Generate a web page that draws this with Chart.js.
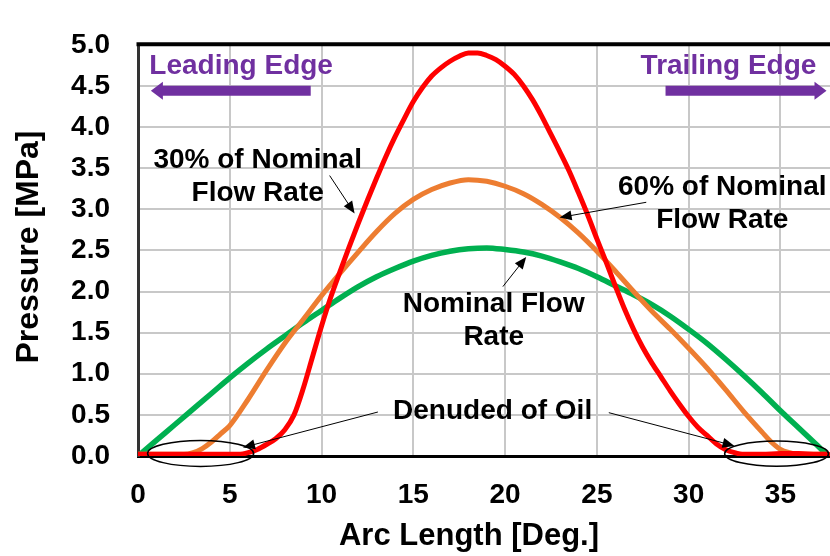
<!DOCTYPE html>
<html>
<head>
<meta charset="utf-8">
<script src="https://cdn.jsdelivr.net/npm/chart.js@4.4.1/dist/chart.umd.min.js"></script>
<style>
  html, body { margin: 0; padding: 0; background: #fff; }
  #wrap { width: 830px; height: 556px; position: relative; }
</style>
</head>
<body>
<div id="wrap"><canvas id="chart"></canvas></div>
<script>
// Pressure profiles along the pad arc, three supply flow rates
const arc30 = [0, 1, 2, 3, 4, 5, 5.5, 6, 6.5, 7, 7.5, 8, 8.5, 9, 9.5, 10, 10.5, 11, 11.5, 12, 12.5, 13, 13.5, 14, 14.5, 15, 15.5, 16, 16.5, 17, 17.5, 18, 18.5, 19, 19.5, 20, 20.5, 21, 21.5, 22, 22.5, 23, 23.5, 24, 24.5, 25, 25.5, 26, 26.5, 27, 27.5, 28, 28.5, 29, 29.5, 30, 30.5, 31, 31.5, 32, 32.5, 33, 34, 35, 36, 37, 37.6];
const pressure30 = [0.02, 0.02, 0.02, 0.02, 0.02, 0.02, 0.02, 0.04, 0.08, 0.14, 0.21, 0.32, 0.50, 0.82, 1.20, 1.58, 1.93, 2.24, 2.54, 2.83, 3.11, 3.38, 3.64, 3.88, 4.10, 4.31, 4.48, 4.62, 4.72, 4.80, 4.86, 4.90, 4.90, 4.87, 4.82, 4.74, 4.64, 4.50, 4.33, 4.13, 3.91, 3.69, 3.46, 3.20, 2.93, 2.64, 2.36, 2.07, 1.79, 1.54, 1.32, 1.13, 0.96, 0.79, 0.63, 0.48, 0.35, 0.25, 0.15, 0.08, 0.04, 0.02, 0.02, 0.03, 0.03, 0.02, 0.02];

const arc60 = [0, 1, 2, 2.5, 3, 3.5, 4, 4.5, 5, 6, 7, 8, 9, 10, 11, 12, 13, 14, 15, 16, 17, 18, 19, 20, 21, 22, 23, 24, 25, 26, 27, 28, 29, 30, 31, 32, 33, 34, 34.5, 35, 35.5, 36, 37, 37.6];
const pressure60 = [0.02, 0.02, 0.02, 0.02, 0.04, 0.09, 0.17, 0.27, 0.37, 0.69, 1.04, 1.37, 1.66, 1.95, 2.22, 2.48, 2.73, 2.95, 3.12, 3.24, 3.32, 3.36, 3.34, 3.28, 3.19, 3.06, 2.90, 2.71, 2.49, 2.25, 2.00, 1.76, 1.54, 1.31, 1.07, 0.81, 0.54, 0.29, 0.17, 0.08, 0.04, 0.02, 0.02, 0.02];

const arcNominal = [0, 1, 2, 3, 4, 5, 6, 7, 8, 9, 10, 11, 12, 13, 14, 15, 16, 17, 18, 19, 20, 21, 22, 23, 24, 25, 26, 27, 28, 29, 30, 31, 32, 33, 34, 35, 36, 37, 37.6];
const pressureNominal = [0, 0.19, 0.38, 0.57, 0.76, 0.95, 1.13, 1.30, 1.46, 1.62, 1.77, 1.92, 2.06, 2.18, 2.28, 2.37, 2.44, 2.49, 2.52, 2.53, 2.51, 2.48, 2.43, 2.36, 2.28, 2.18, 2.07, 1.96, 1.84, 1.70, 1.54, 1.37, 1.18, 0.98, 0.77, 0.55, 0.34, 0.13, 0];

const xTickStep = 5;
const yTickStep = 0.5;
const xMax = 37.7;
const yMax = 5.0;

const FONT = "'Liberation Sans', Arial, Helvetica, sans-serif";
const PURPLE = '#7030A0';

const toPoints = (xs, ys) => xs.map((x, i) => ({ x: x, y: ys[i] }));

// Callouts, placed in data units (arc degrees, MPa)
const calloutText = [
  { lines: ['Leading Edge'], x: 5.62, y: 4.74, color: PURPLE },
  { lines: ['Trailing Edge'], x: 32.17, y: 4.74, color: PURPLE },
  { lines: ['30% of Nominal', 'Flow Rate'], x: 6.52, y: 3.60, color: '#000' },
  { lines: ['60% of Nominal', 'Flow Rate'], x: 31.83, y: 3.27, color: '#000' },
  { lines: ['Nominal Flow', 'Rate'], x: 19.38, y: 1.84, color: '#000' },
  { lines: ['Denuded of Oil'], x: 19.32, y: 0.54, color: '#000' }
];
const thinArrows = [
  [10.44, 3.41, 11.80, 2.95],
  [27.69, 3.085, 22.97, 2.90],
  [19.88, 2.06, 21.15, 2.42],
  [13.07, 0.535, 5.72, 0.104],
  [25.65, 0.527, 32.50, 0.123]
];
const edgeArrows = [
  [9.41, 4.44, 0.70, 4.44],
  [28.74, 4.44, 37.51, 4.44]
];
const dryZones = [
  { x: 3.41, y: 0.031, rx: 2.89, ry: 0.158 },
  { x: 34.79, y: 0.028, rx: 2.83, ry: 0.153 }
];

function arrowHead(ctx, x1, y1, x2, y2, len, half) {
  const ang = Math.atan2(y2 - y1, x2 - x1);
  ctx.beginPath();
  ctx.moveTo(x2, y2);
  ctx.lineTo(x2 - len * Math.cos(ang) + half * Math.sin(ang), y2 - len * Math.sin(ang) - half * Math.cos(ang));
  ctx.lineTo(x2 - len * Math.cos(ang) - half * Math.sin(ang), y2 - len * Math.sin(ang) + half * Math.cos(ang));
  ctx.closePath();
  ctx.fill();
}

const callouts = {
  id: 'callouts',
  afterDatasetsDraw(chart) {
    const { ctx, chartArea: a, scales } = chart;
    const X = v => scales.x.getPixelForValue(v);
    const Y = v => scales.y.getPixelForValue(v);
    ctx.save();

    // heavy top frame
    ctx.strokeStyle = '#000';
    ctx.lineWidth = 4;
    ctx.beginPath();
    ctx.moveTo(a.left - 1.5, a.top - 0.5);
    ctx.lineTo(a.right, a.top - 0.5);
    ctx.stroke();

    // oil-free zones
    ctx.lineWidth = 1.5;
    dryZones.forEach(z => {
      const cx = X(z.x), cy = Y(z.y);
      const rx = X(z.x + z.rx) - cx, ry = cy - Y(z.y + z.ry);
      ctx.beginPath();
      ctx.ellipse(cx, cy, rx, ry, 0, 0, Math.PI * 2);
      ctx.stroke();
    });

    // pointer arrows
    ctx.fillStyle = '#000';
    ctx.lineWidth = 1;
    thinArrows.forEach(([x1, y1, x2, y2]) => {
      const p1x = X(x1), p1y = Y(y1), p2x = X(x2), p2y = Y(y2);
      const ang = Math.atan2(p2y - p1y, p2x - p1x);
      ctx.beginPath();
      ctx.moveTo(p1x, p1y);
      ctx.lineTo(p2x - 8 * Math.cos(ang), p2y - 8 * Math.sin(ang));
      ctx.stroke();
      arrowHead(ctx, p1x, p1y, p2x, p2y, 12, 5);
    });

    // leading / trailing direction arrows
    ctx.strokeStyle = PURPLE;
    ctx.fillStyle = PURPLE;
    ctx.lineWidth = 10;
    edgeArrows.forEach(([x1, y1, x2, y2]) => {
      const p1x = X(x1), py = Y(y1), p2x = X(x2);
      const dir = Math.sign(p2x - p1x);
      ctx.beginPath();
      ctx.moveTo(p1x, py);
      ctx.lineTo(p2x - dir * 10, py);
      ctx.stroke();
      arrowHead(ctx, p1x, py, p2x, py, 12, 9);
    });

    // callout text
    ctx.font = 'bold 28px ' + FONT;
    ctx.textAlign = 'center';
    ctx.textBaseline = 'middle';
    calloutText.forEach(t => {
      ctx.fillStyle = t.color;
      t.lines.forEach((s, i) => ctx.fillText(s, X(t.x), Y(t.y) + i * 33));
    });
    ctx.restore();
  },
  afterDraw(chart) {
    const { ctx } = chart;
    ctx.save();
    ctx.fillStyle = '#000';
    ctx.textAlign = 'center';
    ctx.textBaseline = 'middle';
    ctx.font = 'bold 31px ' + FONT;
    ctx.fillText('Arc Length [Deg.]', 469, 536);
    ctx.translate(29, 247);
    ctx.rotate(-Math.PI / 2);
    ctx.font = 'bold 32px ' + FONT;
    ctx.fillText('Pressure [MPa]', 0, 0);
    ctx.restore();
  }
};

const line = (label, xs, ys, color, width) => ({
  label: label,
  data: toPoints(xs, ys),
  borderColor: color,
  backgroundColor: color,
  borderWidth: width,
  pointRadius: 0,
  fill: false,
  cubicInterpolationMode: 'monotone',
  borderCapStyle: 'round',
  borderJoinStyle: 'round'
});

new Chart(document.getElementById('chart'), {
  type: 'line',
  data: {
    datasets: [
      line('30% of Nominal Flow Rate', arc30, pressure30, '#FF0000', 5),
      line('60% of Nominal Flow Rate', arc60, pressure60, '#ED7D31', 5),
      line('Nominal Flow Rate', arcNominal, pressureNominal, '#00B050', 5.5)
    ]
  },
  options: {
    responsive: true,
    maintainAspectRatio: false,
    devicePixelRatio: 1,
    animation: false,
    layout: { padding: { top: 22, right: 0, bottom: 0, left: 0 } },
    plugins: {
      legend: { display: false },
      tooltip: { enabled: false }
    },
    scales: {
      x: {
        type: 'linear',
        min: 0,
        max: xMax,
        afterFit: s => { s.height = 100; },
        afterBuildTicks: s => {
          const t = [];
          for (let v = 0; v <= xMax; v += xTickStep) t.push({ value: v });
          s.ticks = t;
        },
        grid: { color: '#c8c8c8', lineWidth: 2, drawTicks: false },
        border: { color: '#000', width: 3 },
        ticks: {
          padding: 22,
          color: '#000',
          font: { family: FONT, size: 28, weight: 'bold' },
          maxRotation: 0,
          callback: v => String(v)
        }
      },
      y: {
        type: 'linear',
        min: 0,
        max: yMax,
        afterFit: s => { s.width = 138; },
        grid: { color: '#c8c8c8', lineWidth: 2, drawTicks: false },
        border: { color: '#333', width: 3 },
        ticks: {
          stepSize: yTickStep,
          padding: 28,
          color: '#000',
          font: { family: FONT, size: 28, weight: 'bold' },
          callback: v => Number(v).toFixed(1)
        }
      }
    }
  },
  plugins: [callouts]
});
</script>
</body>
</html>
